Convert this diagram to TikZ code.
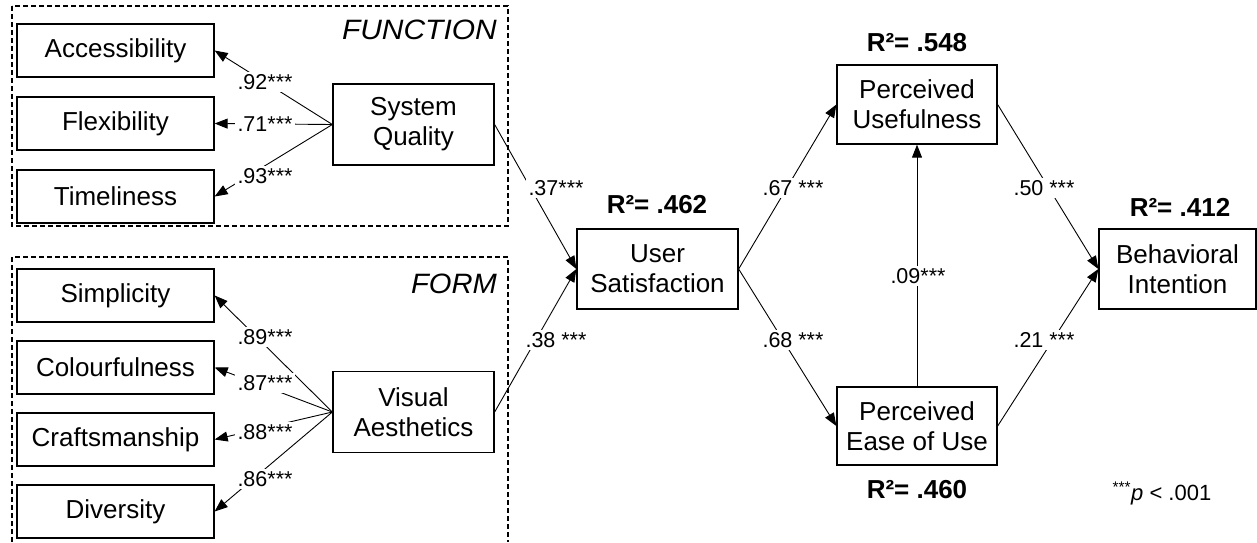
\documentclass[tikz,border=0pt]{standalone}
\usepackage{fontspec}
\setmainfont{Liberation Sans}
\usetikzlibrary{arrows.meta}

\tikzset{
  box/.style={draw, line width=1.3pt, align=center, inner sep=0pt,
    font=\fontsize{26}{30}\selectfont},
  ind/.style={box, minimum width=197pt, minimum height=53pt},
  lat/.style={box, minimum width=161pt, minimum height=81pt},
  group/.style={draw, line width=1.3pt, dash pattern=on 5pt off 3pt},
  link/.style={line width=0.9pt, -{Triangle[length=13pt,width=10pt]}},
  coef/.style={fill=white, inner sep=2.5pt, font=\fontsize{21.5}{24}\selectfont},
  rsq/.style={inner sep=0pt, font=\bfseries\fontsize{26}{30}\selectfont},
  grouptitle/.style={inner sep=0pt, anchor=base east, font=\itshape\fontsize{28}{32}\selectfont},
}

\begin{document}
\begin{tikzpicture}[x=1pt, y=-1pt]
\useasboundingbox (0,0) rectangle (1257,542);

% measurement groups
\draw[group] (12,6) rectangle (508,226);
\draw[group] (12,542) -- (12,257) -- (508,257) -- (508,542);
\node[grouptitle] (fnTitle) at (497,39) {\scalebox{1.07}[1]{FUNCTION}};
\node[grouptitle] (fmTitle) at (497,293) {\scalebox{1.04}[1]{FORM}};

% indicators
\node[ind] (acc)   at (115.5,50.5)  {Accessibility};
\node[ind] (flex)  at (115.5,123.5) {Flexibility};
\node[ind] (time)  at (115.5,196.5) {Timeliness};
\node[ind] (simp)  at (115.5,295.5) {Simplicity};
\node[ind] (col)   at (115.5,367.5) {Colourfulness};
\node[ind] (craft) at (115.5,439.5) {Craftsmanship};
\node[ind] (div)   at (115.5,511.5) {Diversity};

% constructs
\node[lat] (sq)   at (413.5,124.5) {System\\Quality};
\node[lat] (va)   at (413.5,412)   {Visual\\Aesthetics};
\node[lat, minimum height=80pt] (us) at (657.5,269) {User\\Satisfaction};
\node[lat, minimum width=160pt, minimum height=79pt] (pu)   at (917,104.5) {Perceived\\Usefulness};
\node[lat, minimum width=160pt, minimum height=78pt] (peou) at (917,426)   {Perceived\\Ease of Use};
\node[lat, minimum width=157pt, minimum height=80pt] (bi)   at (1177.5,269) {Behavioral\\Intention};

% loadings
\draw[link] (sq.west) -- (acc.east);
\draw[link] (sq.west) -- (flex.east);
\draw[link] (sq.west) -- (time.east);
\draw[link] (va.west) -- (simp.east);
\draw[link] (va.west) -- (col.east);
\draw[link] (va.west) -- (craft.east);
\draw[link] (va.west) -- (div.east);

% structural paths
\draw[link] (sq.east) -- (us.west);
\draw[link] (va.east) -- (us.west);
\draw[link] (us.east) -- (pu.west);
\draw[link] (us.east) -- (peou.west);
\draw[link] (peou.north) -- (pu.south);
\draw[link] (pu.east) -- (bi.west);
\draw[link] (peou.east) -- (bi.west);

% coefficients
\node[coef] (c92) at (265,82)    {.92***};
\node[coef] (c71) at (265,124.5) {.71***};
\node[coef] (c93) at (265,176)   {.93***};
\node[coef] (c89) at (265,337)   {.89***};
\node[coef] (c87) at (265,383)   {.87***};
\node[coef] (c88) at (265,432)   {.88***};
\node[coef] (c86) at (265,479)   {.86***};
\node[coef] (c37) at (556,188)   {.37***};
\node[coef] (c38) at (556,340)   {.38 ***};
\node[coef] (c67) at (793,188)   {.67 ***};
\node[coef] (c68) at (793,340)   {.68 ***};
\node[coef] (c09) at (918,276)   {.09***};
\node[coef] (c50) at (1044,188)  {.50 ***};
\node[coef] (c21) at (1044,340)  {.21 ***};

% explained variance
\node[rsq] (r548) at (917,43)   {R²= .548};
\node[rsq] (r462) at (657,205)  {R²= .462};
\node[rsq] (r412) at (1180,207) {R²= .412};
\node[rsq] (r460) at (917,490)  {R²= .460};

% significance note
\node[inner sep=0pt, anchor=base, font=\fontsize{22}{26}\selectfont] (note) at (1162,500)
  {\textsuperscript{***}\textit{p} < .001};
\end{tikzpicture}
\end{document}
